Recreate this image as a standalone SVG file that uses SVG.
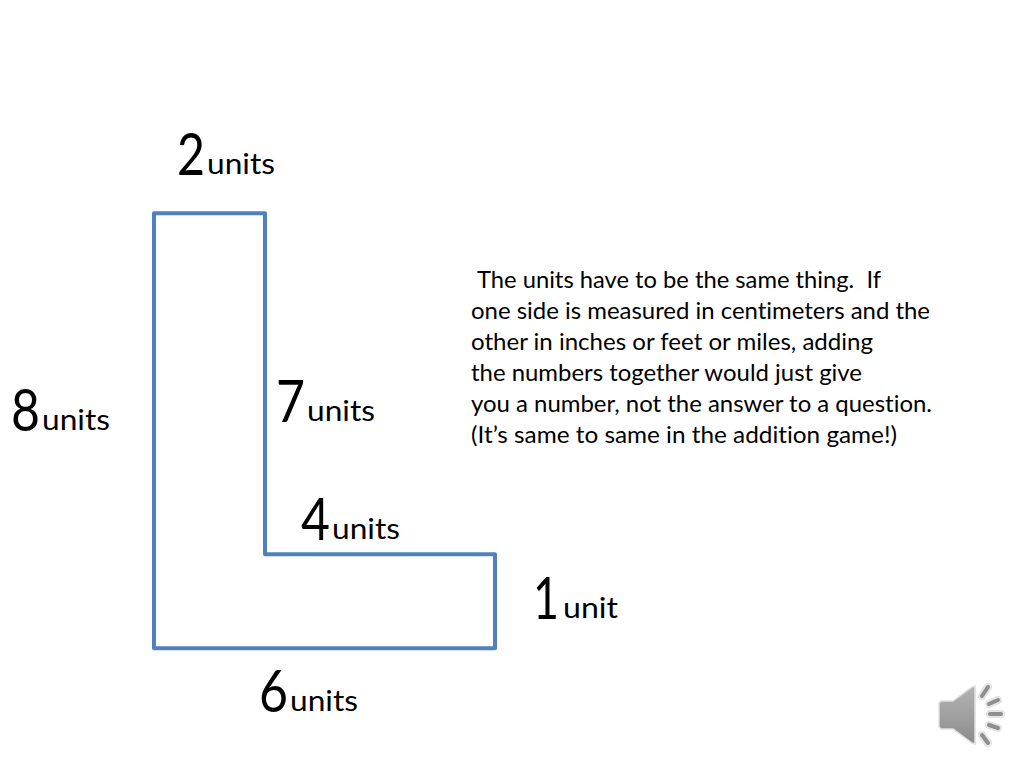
<svg xmlns="http://www.w3.org/2000/svg" width="1024" height="768" viewBox="0 0 1024 768">
<style>
text{font-family:Lato,"Open Sans","Liberation Sans",sans-serif;fill:#000;white-space:pre;font-variant-ligatures:none}
.n{font-size:58px}.u{font-size:29px}.t{font-size:23px}
.s{fill:none;stroke:#4f81bd;stroke-width:4;stroke-linejoin:round;stroke-linecap:round}
.w{fill:none;stroke:#e4e4e4;stroke-width:8;stroke-linecap:round}
.k{fill:none;stroke:#8f8f8f;stroke-width:4;stroke-linecap:round}
</style>
<defs><linearGradient id="g" x1="0" y1="0" x2="0" y2="1"><stop offset="0" stop-color="#b4b4b4"/><stop offset="1" stop-color="#8c8c8c"/></linearGradient></defs>
<rect width="1024" height="768" fill="#fff"/>
<g id="connectors"><path class="s" d="M154 213.3H265V554.3H495V648.3H154Z"/></g>
<g id="label-top"><text class="n" x="177" y="175" textLength="28" lengthAdjust="spacingAndGlyphs">2</text><text class="u" x="207" y="174" textLength="68" lengthAdjust="spacingAndGlyphs">units</text></g>
<g id="label-left"><text class="n" x="11" y="431" textLength="29" lengthAdjust="spacingAndGlyphs">8</text><text class="u" x="42" y="430" textLength="68" lengthAdjust="spacingAndGlyphs">units</text></g>
<g id="label-inner"><text class="n" x="276" y="422" textLength="29" lengthAdjust="spacingAndGlyphs">7</text><text class="u" x="307" y="421" textLength="68" lengthAdjust="spacingAndGlyphs">units</text></g>
<g id="label-step"><text class="n" x="301" y="540" textLength="29" lengthAdjust="spacingAndGlyphs">4</text><text class="u" x="332" y="539" textLength="68" lengthAdjust="spacingAndGlyphs">units</text></g>
<g id="label-right"><text class="n" x="533" y="619" textLength="26" lengthAdjust="spacingAndGlyphs">1</text><text class="u" x="563" y="618" textLength="55" lengthAdjust="spacingAndGlyphs">unit</text></g>
<g id="label-bottom"><text class="n" x="259" y="712" textLength="29" lengthAdjust="spacingAndGlyphs">6</text><text class="u" x="290" y="711" textLength="68" lengthAdjust="spacingAndGlyphs">units</text></g>
<g id="note">
<text class="t" x="477" y="287.5" textLength="404" lengthAdjust="spacingAndGlyphs">The units have to be the same thing.  If</text>
<text class="t" x="471" y="318.5" textLength="459" lengthAdjust="spacingAndGlyphs">one side is measured in centimeters and the</text>
<text class="t" x="471" y="349.5" textLength="402" lengthAdjust="spacingAndGlyphs">other in inches or feet or miles, adding</text>
<text class="t" x="471" y="380.5" textLength="391" lengthAdjust="spacingAndGlyphs">the numbers together would just give</text>
<text class="t" x="471" y="411.5" textLength="461" lengthAdjust="spacingAndGlyphs">you a number, not the answer to a question.</text>
<text class="t" x="471" y="442.5" textLength="426" lengthAdjust="spacingAndGlyphs">(It’s same to same in the addition game!)</text>
</g>
<g id="speaker">
<path d="M939 703L941 701H953L972 687L975 686V744L972 743L953 729H941L939 727Z" fill="url(#g)" stroke="#e0e0e0" stroke-width="1.5"/>
<path class="w" d="M982 696L988 687M989 704L998 700M990 714H1001M989 725L998 728M982 735L988 743"/>
<path class="k" d="M982 696L988 687M989 704L998 700M990 714H1001M989 725L998 728M982 735L988 743"/>
</g>
</svg>
